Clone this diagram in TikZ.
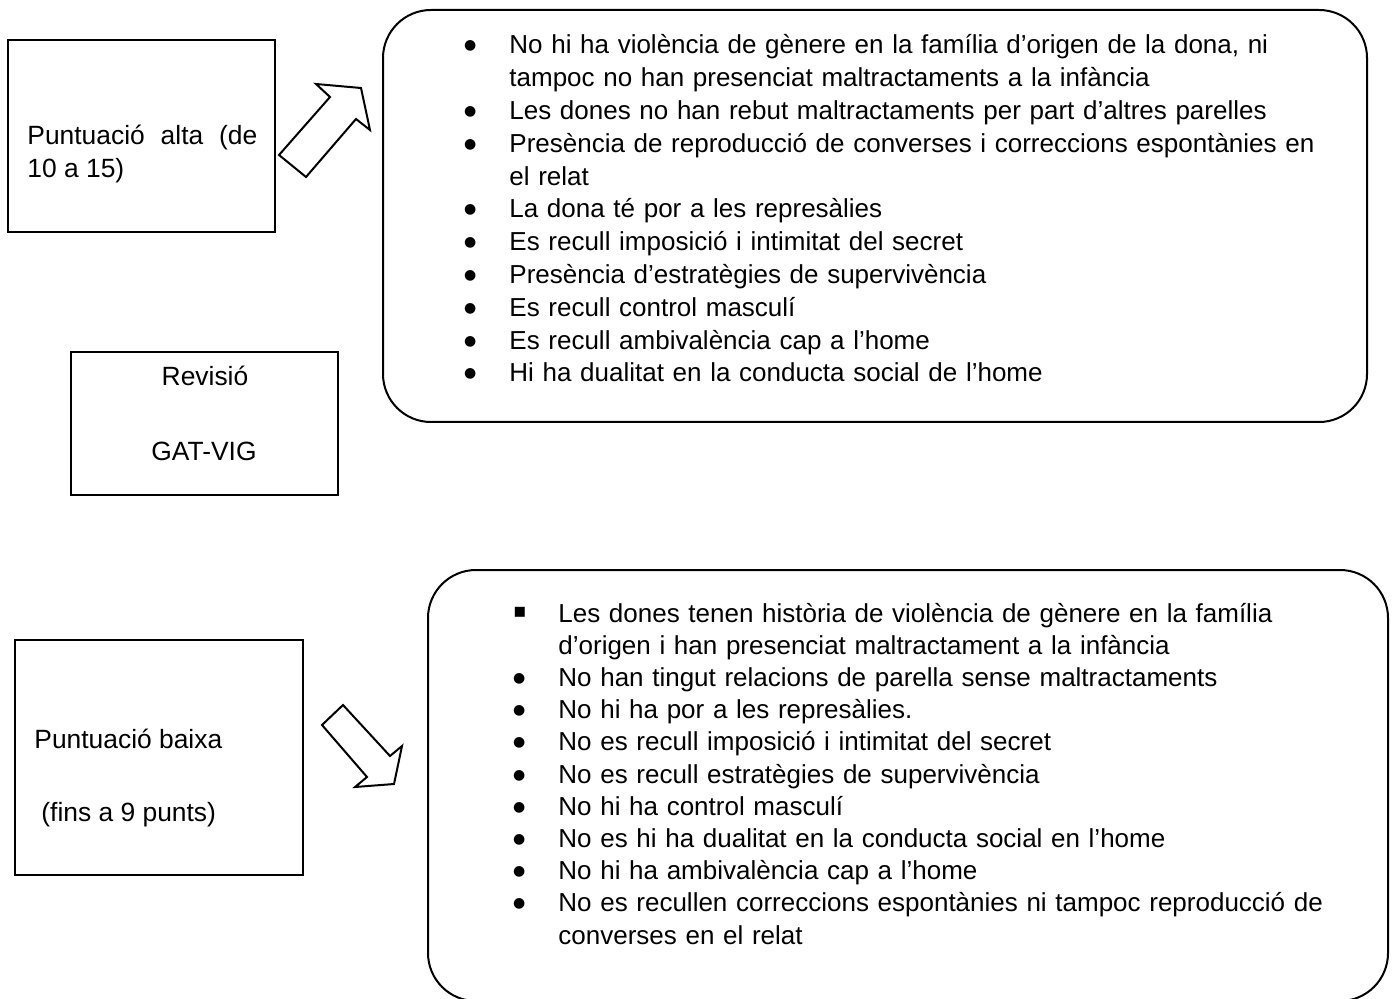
\documentclass[tikz,border=0pt]{standalone}
\usepackage{fontspec}
\setmainfont{Liberation Sans}
\newfontfamily\symfont{DejaVu Sans}

% bullets as in the word document
\newcommand{\bitem}[1]{\makebox[23pt][l]{\hspace*{0.3pt}\raisebox{2pt}{\symfont\fontsize{7}{8}\selectfont ●}}#1}
\newcommand{\sqitem}[1]{\makebox[23pt][l]{\hspace*{0.3pt}\raisebox{2.3pt}{\symfont\fontsize{10}{12}\selectfont ▪}}#1}
\newcommand{\bcont}[1]{\hspace*{23pt}#1}

\begin{document}
\begin{tikzpicture}[x=0.5pt, y=-0.5pt,
    scorebox/.style={draw, line width=1pt, inner sep=0pt},
    listbox/.style={draw, line width=1pt, rounded corners=24pt, inner sep=0pt},
    boxtext/.style={inner sep=0pt, font=\fontsize{13.2}{13.5}\selectfont},
    itemtext/.style={inner sep=0pt, align=left, text width=470pt},
    blockarrow/.style={draw, fill=white, line width=1pt, line join=miter}]
  \useasboundingbox (0,0) rectangle (1395,999);

  % left side boxes
  \node[scorebox, minimum width=133.5pt, minimum height=96pt] (alta) at (141.5,136) {};
  \node[scorebox, minimum width=133.5pt, minimum height=71.5pt] (revisio) at (204.5,423.5) {};
  \node[scorebox, minimum width=144pt, minimum height=117.5pt] (baixa) at (159,757.5) {};

  \node[boxtext, anchor=base west] (altatxt1) at (27,145) {\hbox to 115pt{Puntuació\hfill alta\hfill (de}};
  \node[boxtext, anchor=base west] (altatxt2) at (27,178) {10 a 15)};
  \node[boxtext, anchor=base] (revtxt1) at (205,386) {Revisió};
  \node[boxtext, anchor=base] (revtxt2) at (204,460) {GAT-VIG};
  \node[boxtext, anchor=base west] (baixatxt1) at (34,748) {Puntuació baixa};
  \node[boxtext, anchor=base west] (baixatxt2) at (41,821) {(fins a 9 punts)};

  % block arrows
  \draw[blockarrow] (279,155) -- (306,177) -- (356,119) -- (370,130) -- (361,88)
    -- (316,84) -- (330,97) -- cycle;
  \draw[blockarrow] (322,725) -- (343,705) -- (390,756) -- (402,746) -- (394,784)
    -- (355,787) -- (367,777) -- cycle;

  % rounded boxes with the lists
  \node[listbox, minimum width=492pt, minimum height=206pt] (altalist) at (875,216) {};
  \node[listbox, minimum width=480pt, minimum height=215.5pt] (baixalist) at (908,785.5) {};

  \node[itemtext, anchor=base west, font=\fontsize{13}{16.4}\selectfont] (altaitems) at (463,54) {%
    \bitem{No hi ha violència de gènere en la família d’origen de la dona, ni}\\
    \bcont{tampoc no han presenciat maltractaments a la infància}\\
    \bitem{Les dones no han rebut maltractaments per part d’altres parelles}\\
    \bitem{Presència de reproducció de converses i correccions espontànies en}\\
    \bcont{el relat}\\
    \bitem{La dona té por a les represàlies}\\
    \bitem{Es recull imposició i intimitat del secret}\\
    \bitem{Presència d’estratègies de supervivència}\\
    \bitem{Es recull control masculí}\\
    \bitem{Es recull ambivalència cap a l’home}\\
    \bitem{Hi ha dualitat en la conducta social de l’home}};

  \node[itemtext, anchor=base west, font=\fontsize{13}{16.1}\selectfont] (baixaitems) at (512,622) {%
    \sqitem{Les dones tenen història de violència de gènere en la família}\\
    \bcont{d’origen i han presenciat maltractament a la infància}\\
    \bitem{No han tingut relacions de parella sense maltractaments}\\
    \bitem{No hi ha por a les represàlies.}\\
    \bitem{No es recull imposició i intimitat del secret}\\
    \bitem{No es recull estratègies de supervivència}\\
    \bitem{No hi ha control masculí}\\
    \bitem{No es hi ha dualitat en la conducta social en l’home}\\
    \bitem{No hi ha ambivalència cap a l’home}\\
    \bitem{No es recullen correccions espontànies ni tampoc reproducció de}\\
    \bcont{converses en el relat}};
\end{tikzpicture}
\end{document}
